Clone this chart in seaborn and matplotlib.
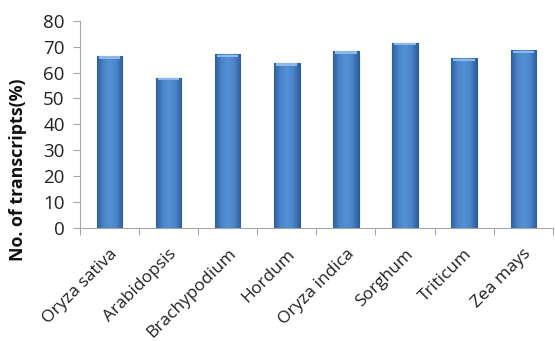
import numpy as np
import pandas as pd
import matplotlib
matplotlib.use("Agg")
import matplotlib.pyplot as plt
import matplotlib.transforms as mtransforms
import seaborn as sns
from matplotlib.colors import LinearSegmentedColormap

species = ["Oryza sativa", "Arabidopsis", "Brachypodium", "Hordum",
           "Oryza indica", "Sorghum", "Triticum", "Zea mays"]
transcripts_pct = [66.4, 58.0, 67.0, 63.6, 68.3, 71.5, 65.5, 68.6]
y_ticks = [0, 10, 20, 30, 40, 50, 60, 70, 80]

sns.set_theme(style="white")
plt.rcParams["font.family"] = ["Open Sans", "DejaVu Sans"]

df = pd.DataFrame({"species": species, "pct": transcripts_pct})

fig = plt.figure(figsize=(5.55, 3.41), dpi=100)
ax = fig.add_axes([0.144, 0.332, 0.852, 0.607])

sns.barplot(data=df, x="species", y="pct", color="#4a7fc1", width=0.43,
            edgecolor="#2c5a93", linewidth=0.8, saturation=1, ax=ax)

# horizontal shading across each bar for a rounded look
shade = LinearSegmentedColormap.from_list(
    "barshade", ["#2f5f9e", "#4a84c9", "#5590d6", "#4a84c9", "#2f5f9e"])
grad = np.linspace(0, 1, 64).reshape(1, -1)
for patch in ax.patches:
    x0, y0 = patch.get_x(), patch.get_y()
    w, h = patch.get_width(), patch.get_height()
    im = ax.imshow(grad, cmap=shade, aspect="auto",
                   extent=[x0, x0 + w, y0, y0 + h], zorder=patch.get_zorder() + 0.1)
    im.set_clip_path(patch)
    # light bevel on the top edge
    ax.fill_between([x0 + w * 0.08, x0 + w * 0.92], y0 + h - 1.0, y0 + h - 0.1,
                    color="#8db8ea", zorder=patch.get_zorder() + 0.2, linewidth=0)

ax.set_xlim(-0.5, len(species) - 0.5)
ax.set_ylim(0, 80)
ax.set_yticks(y_ticks)
ax.set_yticklabels([str(v) for v in y_ticks], fontsize=13.5, color="#222222")

ax.set_xticks(range(len(species)))
ax.set_xticklabels(species, rotation=45, ha="right", rotation_mode="anchor",
                   fontsize=12.5, color="#222222")
shift = mtransforms.ScaledTranslation(-0.075, 0, fig.dpi_scale_trans)
for lbl in ax.get_xticklabels():
    lbl.set_transform(lbl.get_transform() + shift)
ax.set_xticks(np.arange(-0.5, len(species) + 0.5, 1), minor=True)
ax.tick_params(axis="x", which="major", length=0, pad=13)
ax.tick_params(axis="x", which="minor", length=5, width=0.8, color="#a6a6a6",
               direction="out", bottom=True)
ax.tick_params(axis="y", which="major", length=5, width=0.8, color="#a6a6a6",
               direction="out", left=True, pad=6)

for side in ["top", "right"]:
    ax.spines[side].set_visible(False)
for side in ["left", "bottom"]:
    ax.spines[side].set_color("#a6a6a6")
    ax.spines[side].set_linewidth(0.8)

ax.set_xlabel("")
ax.set_ylabel("No. of transcripts(%)", fontsize=12.8, fontweight="bold",
              color="#111111")
ax.yaxis.set_label_coords(-0.112, 0.279)

fig.savefig("out.png", dpi=100)
